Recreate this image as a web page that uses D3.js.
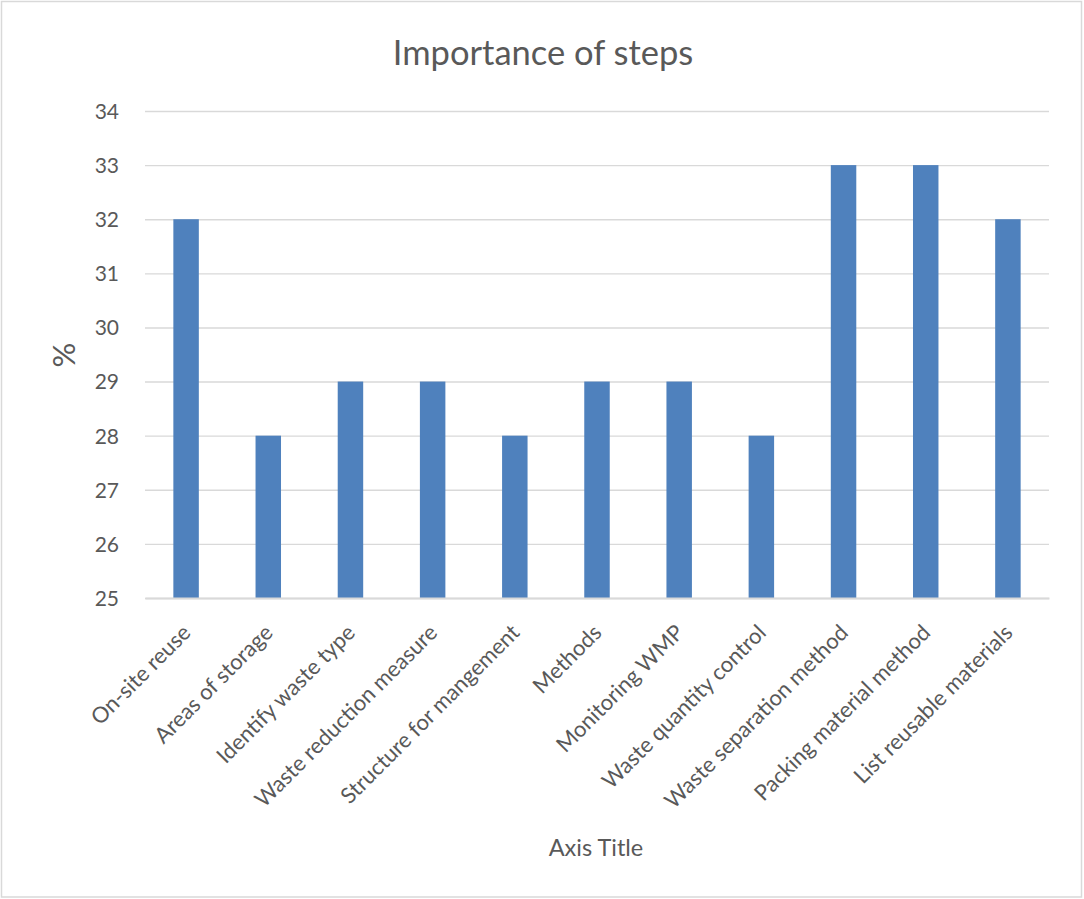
<!DOCTYPE html>
<html>
<head>
<meta charset="utf-8">
<script src="https://cdn.jsdelivr.net/npm/d3@7"></script>
<style>
  html, body { margin: 0; padding: 0; background: #fff; }
  svg { display: block; font-family: Lato, "Open Sans", sans-serif; }
</style>
</head>
<body>
<svg id="chart" width="1084" height="899"></svg>
<script>
const categories = [
  "On-site reuse", "Areas of storage", "Identify waste type", "Waste reduction measure",
  "Structure for mangement", "Methods", "Monitoring WMP", "Waste quantity control",
  "Waste separation method", "Packing material method", "List reusable materials"
];
const values = [32, 28, 29, 29, 28, 29, 29, 28, 33, 33, 32];
const yTicks = [25, 26, 27, 28, 29, 30, 31, 32, 33, 34];
const chartTitle = "Importance of steps";
const yTitle = "%";
const xTitle = "Axis Title";

const W = 1084, H = 899;
const plot = { left: 145, right: 1049, top: 111, bottom: 598 };

const svg = d3.select("#chart");
svg.append("rect").attr("x", 1.5).attr("y", 1.5).attr("width", W - 4).attr("height", H - 3.5)
  .attr("fill", "#fff").attr("stroke", "#d9d9d9").attr("stroke-width", 1.5);

const x = d3.scaleBand().domain(categories).range([plot.left, plot.right])
  .paddingInner(0.69).paddingOuter(0.345);
const y = d3.scaleLinear().domain([25, 34]).range([plot.bottom, plot.top]);

// gridlines
const yAxis = d3.axisLeft(y).tickValues(yTicks).tickSize(-(plot.right - plot.left)).tickPadding(26)
  .tickFormat(d3.format("d"));
const gy = svg.append("g").attr("transform", `translate(${plot.left},0)`).call(yAxis);
gy.select(".domain").remove();
gy.selectAll(".tick line").attr("stroke", "#d9d9d9").attr("stroke-width", 1.4);
gy.selectAll(".tick text").attr("fill", "#595959").attr("font-size", 21)
  .attr("font-family", "Lato, sans-serif").attr("dy", "0.35em");

// bars
svg.append("g").selectAll("rect").data(values).join("rect")
  .attr("x", (d, i) => x(categories[i]))
  .attr("y", d => y(d))
  .attr("width", x.bandwidth())
  .attr("height", d => y(25) - y(d))
  .attr("fill", "#4f81bd");

// baseline
const xAxis = d3.axisBottom(x).tickSize(0).tickPadding(0);
const gx = svg.append("g").attr("transform", `translate(0,${plot.bottom})`).call(xAxis);
gx.select(".domain").attr("stroke", "#d9d9d9").attr("stroke-width", 2);
gx.selectAll(".tick text")
  .attr("fill", "#595959").attr("font-size", 22).attr("font-family", "Lato, sans-serif")
  .attr("text-anchor", "end").attr("dy", null).attr("y", 0)
  .attr("transform", "translate(6,36) rotate(-45)");

// titles
svg.append("text").attr("x", 543).attr("y", 65).attr("text-anchor", "middle")
  .attr("fill", "#595959").attr("font-size", 34.5).text(chartTitle);
svg.append("text").attr("transform", "translate(75,355) rotate(-90)").attr("text-anchor", "middle")
  .attr("fill", "#595959").attr("font-size", 31).text(yTitle);
svg.append("text").attr("x", 596).attr("y", 856).attr("text-anchor", "middle")
  .attr("fill", "#595959").attr("font-size", 23.5).text(xTitle);
</script>
</body>
</html>
